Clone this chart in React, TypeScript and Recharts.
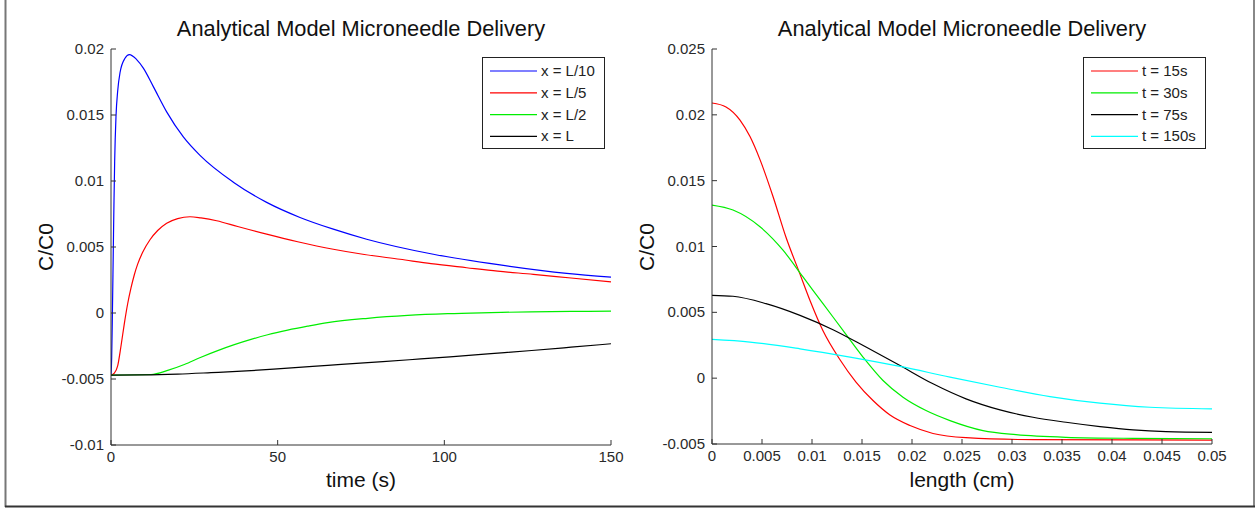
import React from "react";
import { LineChart, Line, XAxis, YAxis } from "recharts";

const FONT = '"Liberation Sans", Arial, Helvetica, sans-serif';

// left panel: C/C0 over time at four depths
const blueTime = [0, 0.2, 0.4, 0.7, 0.9, 1.1, 1.5, 2.0, 2.7, 4.2, 5.5, 7.7, 9.7, 12.7, 16.7, 21.7, 26.7, 36.7, 46.7, 56.7, 66.7, 76.7, 96.7, 116.7, 136.7, 150];
const blueVals = [-0.0047, -0.0034, -0.0004, 0.005, 0.0085, 0.0115, 0.0149, 0.0168, 0.0182, 0.0193, 0.01957, 0.0192, 0.01855, 0.01715, 0.01524, 0.01334, 0.01194, 0.00991, 0.00838, 0.00724, 0.00635, 0.00559, 0.00445, 0.00364, 0.003, 0.00272];

const redTime = [0, 1, 2, 3, 4, 5, 6, 7, 8, 9.5, 11.7, 14, 16.7, 20, 23.7, 27, 31.7, 38, 46.7, 56, 66.7, 76, 86.7, 96, 106.7, 116, 126.7, 138, 150];
const redVals = [-0.0047, -0.00455, -0.004, -0.0025, -0.0008, 0.0007, 0.0019, 0.0029, 0.0037, 0.0046, 0.00555, 0.00625, 0.0068, 0.00715, 0.00729, 0.0072, 0.00699, 0.00655, 0.00597, 0.0054, 0.00483, 0.00443, 0.00407, 0.00374, 0.00343, 0.00317, 0.00293, 0.00265, 0.00236];

const greenTime = [0, 12, 17, 22, 27, 32, 37, 42, 47, 53, 59, 65, 77, 89, 101, 114, 126, 138, 150];
const greenVals = [-0.0047, -0.00466, -0.00435, -0.0039, -0.00335, -0.00285, -0.0024, -0.002, -0.00165, -0.0013, -0.001, -0.00073, -0.0004, -0.00018, -0.00005, 0.00003, 0.00009, 0.00012, 0.00014];

const blackTime = [0, 10, 20, 30, 40.6, 52, 65, 77, 89.5, 101.7, 114, 126.2, 138, 150];
const blackVals = [-0.0047, -0.00469, -0.00463, -0.00452, -0.00439, -0.0042, -0.00397, -0.00376, -0.00354, -0.00332, -0.00308, -0.00284, -0.00259, -0.00233];

const leftNames = ["x = L/10", "x = L/5", "x = L/2", "x = L"];
const leftColors = ["#0000ff", "#ff0000", "#00ee00", "#000000"];
const leftXTicks = [0, 50, 100, 150];
const leftYTicks = [-0.01, -0.005, 0, 0.005, 0.01, 0.015, 0.02];

// right panel: C/C0 over length at four times
const redLen = [0, 0.0014, 0.0028, 0.0038, 0.0048, 0.0061, 0.0074, 0.0088, 0.0098, 0.0111, 0.0128, 0.0144, 0.0161, 0.0178, 0.0198, 0.0221, 0.0254, 0.0321, 0.05];
const redConc = [0.0209, 0.0206, 0.0196, 0.01835, 0.0166, 0.0138, 0.0107, 0.0079, 0.0059, 0.0036, 0.0014, -0.0003, -0.0017, -0.0028, -0.0036, -0.0042, -0.00452, -0.00467, -0.0047];

const greenLen = [0, 0.0021, 0.0048, 0.0071, 0.0091, 0.0111, 0.0131, 0.0151, 0.0171, 0.0191, 0.0214, 0.0238, 0.0271, 0.0304, 0.0354, 0.0421, 0.05];
const greenConc = [0.01315, 0.01277, 0.0115, 0.00972, 0.00769, 0.00566, 0.00363, 0.0016, -0.00018, -0.00145, -0.00246, -0.00322, -0.00398, -0.00429, -0.00449, -0.00457, -0.0046];

const blackLen = [0, 0.0021, 0.0054, 0.0088, 0.0121, 0.0154, 0.0188, 0.0221, 0.0254, 0.0288, 0.0321, 0.0354, 0.0388, 0.0421, 0.0454, 0.05];
const blackConc = [0.00629, 0.00622, 0.00566, 0.00477, 0.00368, 0.00236, 0.00096, -0.00043, -0.00157, -0.00241, -0.00297, -0.00335, -0.00368, -0.00393, -0.00406, -0.00411];

const cyanLen = [0, 0.0038, 0.0088, 0.0138, 0.0188, 0.0238, 0.0288, 0.0338, 0.0388, 0.0438, 0.05];
const cyanConc = [0.00294, 0.00274, 0.00223, 0.0016, 0.00089, 0.00008, -0.00069, -0.0014, -0.0019, -0.00221, -0.00233];

const rightNames = ["t = 15s", "t = 30s", "t = 75s", "t = 150s"];
const rightColors = ["#ff0000", "#00ee00", "#000000", "#00ffff"];
const rightXTicks = [0, 0.005, 0.01, 0.015, 0.02, 0.025, 0.03, 0.035, 0.04, 0.045, 0.05];
const rightYTicks = [-0.005, 0, 0.005, 0.01, 0.015, 0.02, 0.025];

const zip = (xs: number[], ys: number[]) => xs.map((x, i) => ({ x, v: ys[i] }));

const leftSeries = [zip(blueTime, blueVals), zip(redTime, redVals), zip(greenTime, greenVals), zip(blackTime, blackVals)];
const rightSeries = [zip(redLen, redConc), zip(greenLen, greenConc), zip(blackLen, blackConc), zip(cyanLen, cyanConc)];

const AXIS = "#333";
const TICKTXT = "#2a2a2a";

function YTick(props: any) {
  const { x, y, payload } = props;
  return (
    <g>
      <line x1={x} x2={x + 5} y1={y} y2={y} stroke={AXIS} />
      <text x={x - 7} y={y + 5} textAnchor="end" fontSize={15} fontFamily={FONT} fill={TICKTXT}>
        {String(payload.value)}
      </text>
    </g>
  );
}

function XTick(props: any) {
  const { x, y, payload } = props;
  return (
    <g>
      <line x1={x} x2={x} y1={y} y2={y - 5} stroke={AXIS} />
      <text x={x} y={y + 17} textAnchor="middle" fontSize={15} fontFamily={FONT} fill={TICKTXT}>
        {String(payload.value)}
      </text>
    </g>
  );
}

function Panel(props: {
  left: number;
  width: number;
  margin: { top: number; right: number; bottom: number; left: number };
  series: { x: number; v: number }[][];
  colors: string[];
  xDomain: [number, number];
  yDomain: [number, number];
  xTicks: number[];
  yTicks: number[];
}) {
  const { left, width, margin, series, colors, xDomain, yDomain, xTicks, yTicks } = props;
  return (
    <div style={{ position: "absolute", left, top: 0 }}>
      <LineChart width={width} height={508} margin={margin}>
        <XAxis
          dataKey="x"
          type="number"
          domain={xDomain}
          ticks={xTicks}
          allowDataOverflow
          height={30}
          tickSize={0}
          tickMargin={0}
          tickLine={false}
          stroke={AXIS}
          tick={<XTick />}
        />
        <YAxis
          type="number"
          domain={yDomain}
          ticks={yTicks}
          allowDataOverflow
          width={61}
          tickSize={0}
          tickMargin={0}
          tickLine={false}
          stroke={AXIS}
          tick={<YTick />}
        />
        {series.map((d, i) => (
          <Line
            key={i}
            data={d}
            dataKey="v"
            type="monotone"
            stroke={colors[i]}
            strokeWidth={1.2}
            dot={false}
            isAnimationActive={false}
          />
        ))}
      </LineChart>
    </div>
  );
}

function LegendBox(props: { x: number; y: number; names: string[]; colors: string[] }) {
  const { x, y, names, colors } = props;
  return (
    <g>
      <rect x={x + 0.5} y={y + 0.5} width={122} height={91} fill="#fff" stroke="#222" />
      {names.map((n, i) => {
        const cy = y + 14 + i * 21.8;
        return (
          <g key={n}>
            <line x1={x + 8} x2={x + 55} y1={cy} y2={cy} stroke={colors[i]} strokeWidth={1.2} />
            <text x={x + 59} y={cy + 5} fontSize={15} fontFamily={FONT} fill="#222">
              {n}
            </text>
          </g>
        );
      })}
    </g>
  );
}

export default function App() {
  const title = "Analytical Model Microneedle Delivery";
  return (
    <div style={{ position: "absolute", left: 0, top: 0, width: 1259, height: 508, background: "#fff", fontFamily: FONT }}>
      <Panel
        left={0}
        width={630}
        margin={{ top: 49, right: 19, bottom: 33, left: 50 }}
        series={leftSeries}
        colors={leftColors}
        xDomain={[0, 150]}
        yDomain={[-0.01, 0.02]}
        xTicks={leftXTicks}
        yTicks={leftYTicks}
      />
      <Panel
        left={630}
        width={629}
        margin={{ top: 49, right: 47, bottom: 34, left: 21 }}
        series={rightSeries}
        colors={rightColors}
        xDomain={[0, 0.05]}
        yDomain={[-0.005, 0.025]}
        xTicks={rightXTicks}
        yTicks={rightYTicks}
      />
      <svg width={1259} height={508} style={{ position: "absolute", left: 0, top: 0, pointerEvents: "none" }}>
        <text x={361} y={36} textAnchor="middle" fontSize={21.8} fontFamily={FONT} fill="#111">{title}</text>
        <text x={962} y={36} textAnchor="middle" fontSize={21.8} fontFamily={FONT} fill="#111">{title}</text>
        <text x={361} y={487} textAnchor="middle" fontSize={21} fontFamily={FONT} fill="#111">time (s)</text>
        <text x={962} y={487} textAnchor="middle" fontSize={21} fontFamily={FONT} fill="#111">length (cm)</text>
        <text x={53} y={247} transform="rotate(-90 53 247)" textAnchor="middle" fontSize={21} fontFamily={FONT} fill="#111">C/C0</text>
        <text x={654} y={247} transform="rotate(-90 654 247)" textAnchor="middle" fontSize={21} fontFamily={FONT} fill="#111">C/C0</text>
        <LegendBox x={482} y={57} names={leftNames} colors={leftColors} />
        <LegendBox x={1083} y={57} names={rightNames} colors={rightColors} />
        <line x1={5.5} x2={5.5} y1={0} y2={507} stroke="#777" strokeWidth={2} />
        <line x1={1254} x2={1254} y1={0} y2={507} stroke="#888" strokeWidth={2} />
        <line x1={5} x2={1255} y1={506.5} y2={506.5} stroke="#333" strokeWidth={2} />
      </svg>
    </div>
  );
}
